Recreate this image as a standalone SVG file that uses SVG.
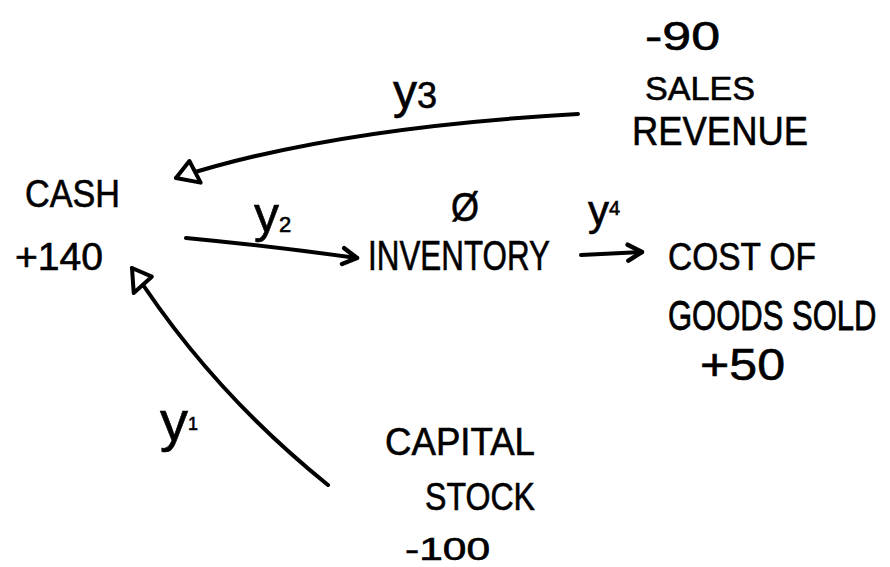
<svg xmlns="http://www.w3.org/2000/svg" width="890" height="567" viewBox="0 0 890 567">
<style>
text{font-family:"Liberation Sans","DejaVu Sans",sans-serif;fill:#000;stroke:#000;stroke-width:0.6;}
.c{fill:none;stroke:#000;stroke-width:4;stroke-linecap:round;stroke-linejoin:round;}
</style>
<defs>
<marker id="tri" markerUnits="userSpaceOnUse" markerWidth="40" markerHeight="40" refX="0" refY="0" viewBox="-30 -20 40 40" orient="auto">
<path d="M0,0 L-22,-12 L-18,12 Z" fill="#fff" stroke="#000" stroke-width="4" stroke-linejoin="round"/>
</marker>
<marker id="chev" markerUnits="userSpaceOnUse" markerWidth="30" markerHeight="30" refX="0" refY="0" viewBox="-20 -15 30 30" orient="auto">
<path d="M-14,-8 L0,0 L-14,8" fill="none" stroke="#000" stroke-width="4.5" stroke-linecap="round" stroke-linejoin="round"/>
</marker>
</defs>
<rect width="890" height="567" fill="#fff"/>
<g id="connectors">
<path class="c" d="M578,114 Q330,128 176,178" marker-end="url(#tri)"/>
<path class="c" d="M186,238 Q270,246 357,258" marker-end="url(#chev)"/>
<path class="c" d="M581,255 L642,252" marker-end="url(#chev)"/>
<path class="c" d="M328,485 Q210,390 132,268" marker-end="url(#tri)"/>
<text x="393" y="108" font-size="48">y<tspan font-size="36">3</tspan></text>
<text x="254" y="232" font-size="50">y<tspan font-size="22">2</tspan></text>
<text x="588" y="225" font-size="42">y<tspan font-size="20" dy="-10">4</tspan></text>
<text x="160" y="440" font-size="56">y<tspan font-size="18" dy="-10">1</tspan></text>
</g>
<g id="cash">
<text x="25" y="207" font-size="38" textLength="95" lengthAdjust="spacingAndGlyphs">CASH</text>
<text x="15" y="270" font-size="38" textLength="88" lengthAdjust="spacingAndGlyphs">+140</text>
</g>
<g id="inventory">
<text x="451" y="221" font-size="40" textLength="28" lengthAdjust="spacingAndGlyphs">Ø</text>
<text x="368" y="270" font-size="42" textLength="182" lengthAdjust="spacingAndGlyphs">INVENTORY</text>
</g>
<g id="cogs">
<text x="668" y="270" font-size="38" textLength="148" lengthAdjust="spacingAndGlyphs">COST OF</text>
<text transform="translate(668,330) scale(1,1.4)" x="0" y="0" font-size="31">GOODS SOLD</text>
<text x="700" y="380" font-size="44" textLength="85" lengthAdjust="spacingAndGlyphs">+50</text>
</g>
<g id="sales">
<text x="645" y="50" font-size="40" textLength="75" lengthAdjust="spacingAndGlyphs">-90</text>
<text x="645" y="100" font-size="34" textLength="110" lengthAdjust="spacingAndGlyphs">SALES</text>
<text x="632" y="145" font-size="40" textLength="176" lengthAdjust="spacingAndGlyphs">REVENUE</text>
</g>
<g id="capital">
<text x="385" y="455" font-size="38" textLength="150" lengthAdjust="spacingAndGlyphs">CAPITAL</text>
<text x="425" y="510" font-size="38" textLength="110" lengthAdjust="spacingAndGlyphs">STOCK</text>
<text x="405" y="560" font-size="31" textLength="85" lengthAdjust="spacingAndGlyphs">-100</text>
</g>
</svg>
